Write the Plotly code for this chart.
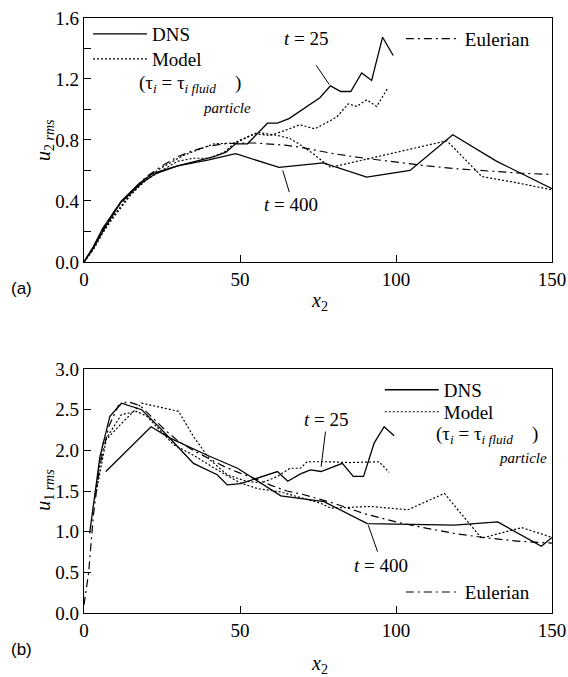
import plotly.graph_objects as go

# ---- panel (a): u2 rms vs x2 ----
a_dns25_x = [0, 3, 6, 9, 12, 15, 18, 22, 30, 41.7, 45.5, 48.6, 52.4, 58.8, 62, 65.7, 72, 75.6, 79, 82.3, 85.5, 89, 92.2, 95.7, 99.1]
a_dns25_y = [0, 0.1, 0.22, 0.31, 0.40, 0.46, 0.52, 0.58, 0.63, 0.69, 0.72, 0.775, 0.775, 0.91, 0.91, 0.94, 1.03, 1.077, 1.155, 1.118, 1.118, 1.24, 1.19, 1.474, 1.354]
a_dns400_x = [0, 3, 6, 9, 11.75, 15, 18, 23, 30, 40, 48.6, 62.5, 76.7, 90.6, 104.5, 118.2, 132.3, 150]
a_dns400_y = [0, 0.09, 0.2, 0.3, 0.39, 0.45, 0.51, 0.58, 0.63, 0.67, 0.71, 0.62, 0.65, 0.556, 0.60, 0.834, 0.66, 0.48]
a_mod25_x = [0, 3, 6, 9, 12, 15, 20, 25, 30, 35, 40, 45, 48.6, 54.5, 59.8, 64.1, 69.2, 74, 77.8, 81, 84.7, 87.4, 90.6, 93.8, 97.2]
a_mod25_y = [0, 0.08, 0.19, 0.28, 0.36, 0.44, 0.54, 0.6, 0.66, 0.68, 0.68, 0.72, 0.786, 0.84, 0.83, 0.86, 0.90, 0.873, 0.917, 0.95, 1.037, 1.02, 1.063, 1.02, 1.135]
a_mod400_x = [0, 3, 6, 9, 12, 15, 20, 25, 32, 41.7, 48.6, 55.6, 62, 66, 69.2, 73.5, 79, 92, 104.5, 116.3, 127.5, 138.6, 150]
a_mod400_y = [0, 0.09, 0.2, 0.29, 0.37, 0.45, 0.55, 0.62, 0.70, 0.775, 0.78, 0.85, 0.83, 0.81, 0.77, 0.709, 0.62, 0.68, 0.742, 0.795, 0.56, 0.52, 0.473]
a_eul_x = [0, 3, 6, 10, 15, 20, 25, 30, 35, 40, 45, 50, 55, 60, 65, 70, 80, 90, 100, 110, 120, 130, 140, 150]
a_eul_y = [0, 0.1, 0.21, 0.34, 0.46, 0.56, 0.63, 0.69, 0.73, 0.76, 0.775, 0.78, 0.78, 0.775, 0.765, 0.75, 0.71, 0.68, 0.655, 0.63, 0.61, 0.595, 0.582, 0.574]

# ---- panel (b): u1 rms vs x2 ----
b_dns25_x = [1.8, 5.1, 8.3, 12, 18.5, 25, 35.1, 42.7, 45.9, 50.2, 62, 65.3, 69.4, 72.6, 76, 82.8, 86.3, 89.6, 93, 96.2, 99.4]
b_dns25_y = [0.98, 1.92, 2.42, 2.58, 2.5, 2.25, 1.84, 1.70, 1.575, 1.59, 1.74, 1.62, 1.71, 1.76, 1.74, 1.84, 1.68, 1.68, 2.09, 2.29, 2.18]
b_dns400_x = [7, 21.5, 27.6, 39.5, 49.2, 63.1, 76.9, 90.8, 118.7, 132.6, 146.6, 150]
b_dns400_y = [1.74, 2.29, 2.15, 1.94, 1.78, 1.44, 1.37, 1.10, 1.08, 1.12, 0.82, 0.93]
b_mod25_x = [3.4, 6.1, 12, 18.5, 30.3, 35.1, 40.5, 45.9, 52, 57, 62, 66, 69.4, 71.5, 77.9, 85.5, 94.6, 97.8]
b_mod25_y = [1.4, 2.09, 2.33, 2.58, 2.48, 2.17, 1.88, 1.70, 1.62, 1.60, 1.68, 1.78, 1.78, 1.86, 1.86, 1.85, 1.86, 1.73]
b_mod400_x = [4, 7.2, 12, 16.9, 20.1, 28.7, 35.1, 42.7, 50, 55.6, 62.9, 75.8, 79, 91.9, 103.8, 115.5, 127.4, 140.3, 150]
b_mod400_y = [1.5, 2.15, 2.44, 2.48, 2.42, 2.07, 1.94, 1.76, 1.6, 1.53, 1.49, 1.35, 1.29, 1.31, 1.27, 1.47, 0.92, 1.05, 0.93]
b_eul_x = [0, 1.5, 3, 5, 8, 11, 14, 18, 22, 26, 30, 35, 40, 45, 50, 55, 60, 65, 70, 80, 90, 100, 110, 120, 130, 140, 150]
b_eul_y = [0.1, 0.5, 1.2, 1.8, 2.3, 2.55, 2.6, 2.55, 2.4, 2.25, 2.12, 2.0, 1.9, 1.8, 1.72, 1.65, 1.57, 1.5, 1.46, 1.35, 1.22, 1.12, 1.04, 0.97, 0.92, 0.88, 0.86]

SERIF = '"Liberation Serif", "Times New Roman", Times, serif'
SOLID = dict(color="black", width=1.3)
DOT = dict(color="black", width=1.2, dash="2px,2px")
DASHDOT = dict(color="black", width=1.2, dash="8px,4px,2px,4px")

fig = go.Figure()

def add_panel(xa, ya, legs, d25, d400, m25, m400, eul):
    fig.add_trace(go.Scatter(x=d25[0], y=d25[1], mode="lines", line=SOLID, name="DNS",
                             xaxis=xa, yaxis=ya, legend=legs[0]))
    fig.add_trace(go.Scatter(x=d400[0], y=d400[1], mode="lines", line=SOLID, showlegend=False,
                             xaxis=xa, yaxis=ya))
    fig.add_trace(go.Scatter(x=m25[0], y=m25[1], mode="lines", line=DOT, name="Model",
                             xaxis=xa, yaxis=ya, legend=legs[1]))
    fig.add_trace(go.Scatter(x=m400[0], y=m400[1], mode="lines", line=DOT, showlegend=False,
                             xaxis=xa, yaxis=ya))
    fig.add_trace(go.Scatter(x=eul[0], y=eul[1], mode="lines", line=DASHDOT, name="Eulerian",
                             xaxis=xa, yaxis=ya, legend=legs[2]))

add_panel("x", "y", ("legend", "legend2", "legend3"),
          (a_dns25_x, a_dns25_y), (a_dns400_x, a_dns400_y),
          (a_mod25_x, a_mod25_y), (a_mod400_x, a_mod400_y), (a_eul_x, a_eul_y))
add_panel("x2", "y2", ("legend4", "legend5", "legend6"),
          (b_dns25_x, b_dns25_y), (b_dns400_x, b_dns400_y),
          (b_mod25_x, b_mod25_y), (b_mod400_x, b_mod400_y), (b_eul_x, b_eul_y))

axis_common = dict(showline=True, linecolor="black", linewidth=1.3, mirror=True,
                   ticks="inside", ticklen=7, tickcolor="black", tickwidth=1.2,
                   showgrid=False, zeroline=False, automargin=False,
                   ticklabeloverflow="allow",
                   tickfont=dict(family=SERIF, size=19, color="black"))

leg_font = dict(family=SERIF, size=19, color="black")
leg_common = dict(font=leg_font, bgcolor="rgba(0,0,0,0)", borderwidth=0,
                  xanchor="left", yanchor="middle", tracegroupgap=0, itemwidth=54)

fig.update_layout(
    width=568, height=677,
    margin=dict(l=84, r=16, t=18, b=64),
    paper_bgcolor="white", plot_bgcolor="white",
    xaxis=dict(axis_common, domain=[0, 1], range=[0, 150], tickvals=[0, 50, 100, 150], anchor="y"),
    yaxis=dict(axis_common, domain=[0.59, 1], range=[0, 1.6], tickvals=[0, 0.4, 0.8, 1.2, 1.6],
               ticktext=["0.0", "0.4", "0.8", "1.2", "1.6"], anchor="x",
               minor=dict(ticks="inside", dtick=0.2, ticklen=7, tickcolor="black", tickwidth=1.2)),
    xaxis2=dict(axis_common, domain=[0, 1], range=[0, 150], tickvals=[0, 50, 100, 150], anchor="y2"),
    yaxis2=dict(axis_common, domain=[0, 0.41], range=[0, 3.0], tickvals=[0, 0.5, 1, 1.5, 2, 2.5, 3],
                ticktext=["0.0", "0.5", "1.0", "1.5", "2.0", "2.5", "3.0"], anchor="x2"),
    legend=dict(leg_common, x=0.0085, y=0.973),
    legend2=dict(leg_common, x=0.0085, y=0.931),
    legend3=dict(leg_common, x=0.677, y=0.965),
    legend4=dict(leg_common, x=0.632, y=0.375),
    legend5=dict(leg_common, x=0.632, y=0.338),
    legend6=dict(leg_common, x=0.677, y=0.035),
    showlegend=True,
)

ann_font = dict(family=SERIF, size=19, color="black")
tau_text = "(τ<sub><i>i</i></sub> = τ<sub><i>i fluid</i></sub>    )"
part_font = dict(family=SERIF, size=15, color="black")
title_font = dict(family=SERIF, size=20, color="black")

def ann(x, y, text, font, xref="paper", yref="paper", xanchor="center", **kw):
    return dict(x=x, y=y, xref=xref, yref=yref, text=text, showarrow=False,
                xanchor=xanchor, yanchor="middle", font=font, **kw)

annotations = [
    # axis titles
    ann(0.504, 0.523, "<i>x</i><sub>2</sub>", title_font),
    ann(0.504, -0.087, "<i>x</i><sub>2</sub>", title_font),
    ann(-0.0833, 0.795, "<i>u</i><sub>2 <i>rms</i></sub>", title_font, textangle=-90),
    ann(-0.0833, 0.207, "<i>u</i><sub>1 <i>rms</i></sub>", title_font, textangle=-90),
    # panel (a)
    ann(17, 1.17, tau_text, ann_font, "x", "y", "left"),
    ann(45.8, 1.01, "<i>particle</i>", part_font, "x", "y"),
    ann(71.2, 1.465, "<i>t</i> = 25", ann_font, "x", "y"),
    ann(66.5, 0.38, "<i>t</i> = 400", ann_font, "x", "y"),
    # panel (b)
    ann(112.3, 2.19, tau_text, ann_font, "x2", "y2", "left"),
    ann(140.6, 1.91, "<i>particle</i>", part_font, "x2", "y2"),
    ann(77.7, 2.376, "<i>t</i> = 25", ann_font, "x2", "y2"),
    ann(95.2, 0.59, "<i>t</i> = 400", ann_font, "x2", "y2"),
    # panel letters
    ann(-0.1325, 0.546, "(a)", dict(family="Liberation Sans", size=17, color="black")),
    ann(-0.1325, -0.062, "(b)", dict(family="Liberation Sans", size=17, color="black")),
]
fig.update_layout(annotations=annotations)

# leader lines from the time labels to the curves
leaders = [
    ("x", "y", 74.4, 1.29, 78.6, 1.164),
    ("x", "y", 63.7, 0.60, 65.8, 0.458),
    ("x2", "y2", 77.4, 2.23, 76.0, 1.80),
    ("x2", "y2", 94.1, 0.754, 91.1, 1.08),
]
for xr, yr, x0, y0, x1, y1 in leaders:
    fig.add_shape(type="line", xref=xr, yref=yr, x0=x0, y0=y0, x1=x1, y1=y1,
                  line=dict(color="black", width=1))

# drop the default 8px page margin so the figure fills the window exactly
fig.write_html("out.html", config={"displayModeBar": False},
               post_script="document.body.style.margin = '0';")
